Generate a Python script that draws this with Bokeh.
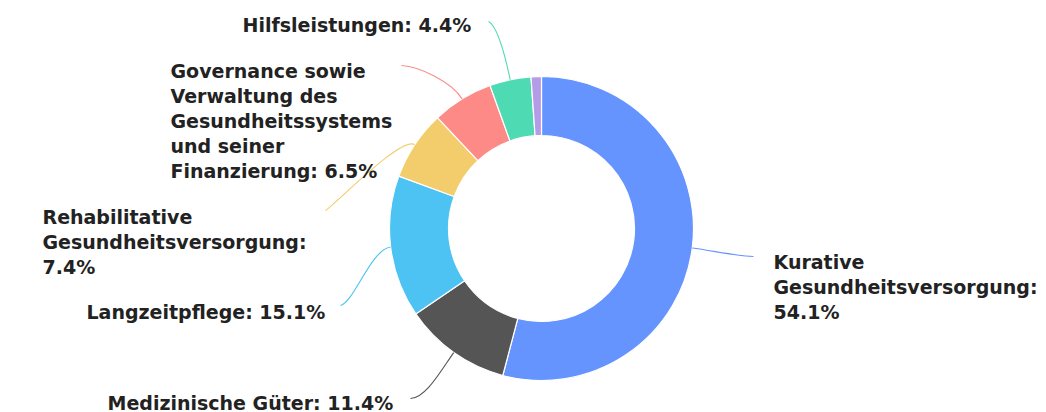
import math
import textwrap
from bokeh.plotting import figure
from bokeh.models import Range1d, ColumnDataSource
from bokeh.core.properties import value
from bokeh.embed import file_html
from bokeh.resources import INLINE

# ---------------- data ----------------
categories = [
    "Kurative Gesundheitsversorgung",
    "Medizinische Güter",
    "Langzeitpflege",
    "Rehabilitative Gesundheitsversorgung",
    "Governance sowie Verwaltung des Gesundheitssystems und seiner Finanzierung",
    "Hilfsleistungen",
    "Sonstige",
]
shares = [54.1, 11.4, 15.1, 7.4, 6.5, 4.4, 1.1]
colors = ["#6694fe", "#555555", "#4cc3f2", "#f3cd6b", "#fe8a88", "#4edbb4", "#b59ce8"]
show_label = [True, True, True, True, True, True, False]

# ---------------- layout ----------------
W, H = 1046, 412
CX, CY = 541, 228          # pie centre in pixels from top-left
R_OUT, R_IN = 152, 93
FONT = "DejaVu Sans"
FSIZE = "19px"
LINE_H = 25
TEXT_SHIFT = -7

# per slice: wrap width, label left x, first baseline (px from top), connector end, control offsets
label_layout = [
    dict(wrap=22, x=773, y=268, end=(753, 256), c0=20, c1=(-15, 0)),
    dict(wrap=30, x=107, y=409, end=(410, 398), c0=22, c1=(15, 0)),
    dict(wrap=22, x=86, y=318, end=(340, 305), c0=20, c1=(14, -4)),
    dict(wrap=22, x=42, y=223, end=(325, 210), c0=16, c1=(12, -8)),
    dict(wrap=18, x=170, y=77, end=(401, 65), c0=20, c1=(18, 1)),
    dict(wrap=22, x=242, y=31, end=(488, 21), c0=30, c1=(8, 4)),
    None,
]

def Y(v):
    return H - v

total = sum(shares)
starts, ends, mids = [], [], []
acc = 0.0
for s in shares:
    a0 = acc / total
    acc += s
    a1 = acc / total
    starts.append(math.pi / 2 - a0 * 2 * math.pi)
    ends.append(math.pi / 2 - a1 * 2 * math.pi)
    mids.append((a0 + a1) / 2)

p = figure(width=W, height=H, x_range=Range1d(0, W), y_range=Range1d(0, H),
           output_backend="svg", toolbar_location=None,
           x_axis_type=None, y_axis_type=None, min_border=0)
p.grid.visible = False
p.outline_line_color = None
p.background_fill_color = "white"
p.border_fill_color = "white"

src = ColumnDataSource(dict(cat=categories, share=shares, color=colors,
                            start=starts, end=ends))
p.annular_wedge(x=CX, y=Y(CY), inner_radius=R_IN, outer_radius=R_OUT,
                start_angle="start", end_angle="end", direction="clock",
                fill_color="color", line_color="white", line_width=1.2,
                source=src, inner_radius_units="screen", outer_radius_units="screen")

tx, ty, tt = [], [], []
for i, (name, s) in enumerate(zip(categories, shares)):
    lay = label_layout[i]
    if not show_label[i] or lay is None:
        continue
    # connector
    frac = mids[i]
    ang = frac * 2 * math.pi          # clockwise from top
    dx, dy = math.sin(ang), -math.cos(ang)
    sx, sy = CX + R_OUT * dx, CY + R_OUT * dy
    ex, ey = lay["end"]
    c0x, c0y = sx + lay["c0"] * dx, sy + lay["c0"] * dy
    c1x, c1y = ex + lay["c1"][0], ey + lay["c1"][1]
    p.bezier(x0=sx, y0=Y(sy), x1=ex, y1=Y(ey), cx0=c0x, cy0=Y(c0y),
             cx1=c1x, cy1=Y(c1y), line_color=colors[i], line_width=1.1)
    # label text
    txt = f"{name}: {s}%"
    lines = textwrap.wrap(txt, width=lay["wrap"])
    for k, ln in enumerate(lines):
        tx.append(lay["x"])
        ty.append(Y(lay["y"] + TEXT_SHIFT + k * LINE_H))
        tt.append(ln)

p.text(x=tx, y=ty, text=tt, text_font=value(FONT), text_font_style="bold",
       text_font_size=FSIZE, text_color="#222222", text_align="left",
       text_baseline="alphabetic")

open("out.html", "w").write(file_html(p, INLINE))
